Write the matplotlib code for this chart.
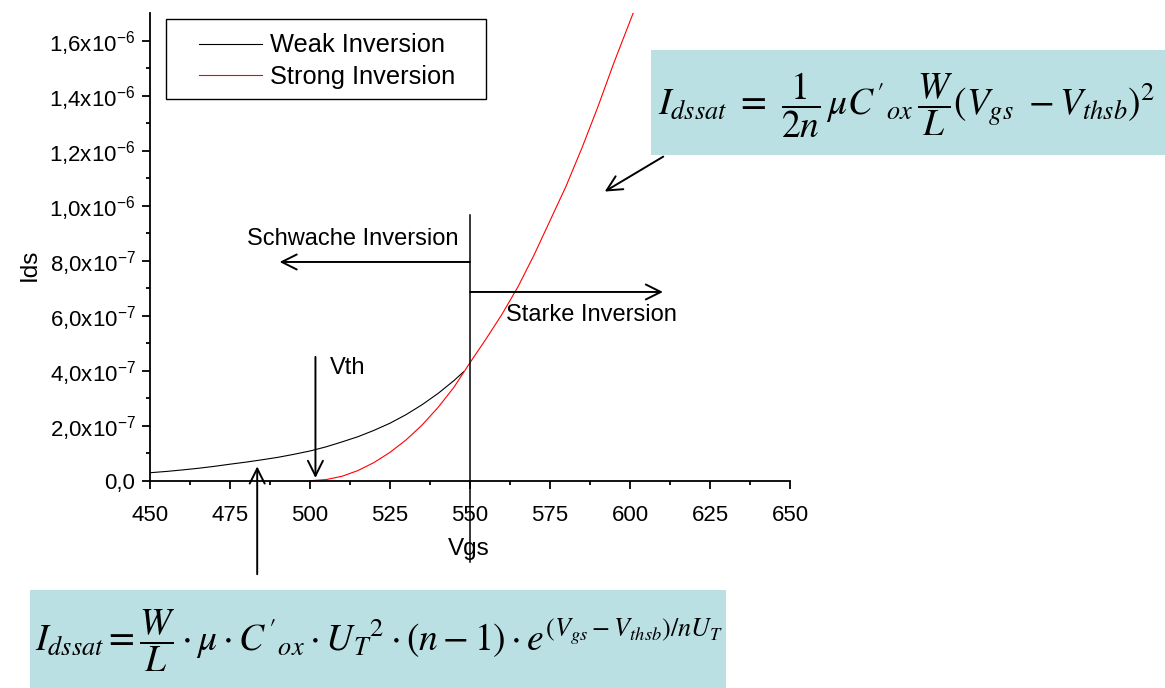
import numpy as np
import matplotlib.pyplot as plt
from matplotlib.patches import Rectangle

plt.rcParams['font.family'] = ['Liberation Sans', 'DejaVu Sans']
plt.rcParams['mathtext.fontset'] = 'custom'
plt.rcParams['mathtext.rm'] = 'Liberation Sans'
plt.rcParams['mathtext.it'] = 'Liberation Sans:italic'

# --- Daten ---
vgs_weak = [450, 455, 460, 465, 470, 475, 480, 485, 490, 495, 500, 505, 510,
            515, 520, 525, 530, 535, 540, 545, 548]
ids_weak = [2.9e-8, 3.35e-8, 3.9e-8, 4.5e-8, 5.2e-8, 6.0e-8, 6.75e-8, 7.6e-8,
            8.5e-8, 9.6e-8, 1.08e-7, 1.23e-7, 1.41e-7, 1.60e-7, 1.83e-7,
            2.09e-7, 2.40e-7, 2.76e-7, 3.17e-7, 3.64e-7, 3.96e-7]

vgs_strong = [500, 505, 510, 515, 520, 525, 530, 535, 540, 545, 550, 555, 560,
              565, 570, 575, 580, 585, 590, 595, 601]
ids_strong = [0.0, 4e-9, 1.6e-8, 3.7e-8, 6.6e-8, 1.03e-7, 1.48e-7, 2.02e-7,
              2.66e-7, 3.40e-7, 4.29e-7, 5.15e-7, 6.05e-7, 7.05e-7, 8.2e-7,
              9.45e-7, 1.07e-6, 1.21e-6, 1.36e-6, 1.52e-6, 1.70e-6]

xticks = [450, 475, 500, 525, 550, 575, 600, 625, 650]
yticks = [0, 2e-7, 4e-7, 6e-7, 8e-7, 1.0e-6, 1.2e-6, 1.4e-6, 1.6e-6]
ytick_labels = ["0,0", "2,0x10$^{\\mathregular{-7}}$", "4,0x10$^{\\mathregular{-7}}$",
                "6,0x10$^{\\mathregular{-7}}$", "8,0x10$^{\\mathregular{-7}}$",
                "1,0x10$^{\\mathregular{-6}}$", "1,2x10$^{\\mathregular{-6}}$",
                "1,4x10$^{\\mathregular{-6}}$", "1,6x10$^{\\mathregular{-6}}$"]

box_color = '#bae0e3'

W, H = 1165, 688
fig = plt.figure(figsize=(W / 100, H / 100), dpi=100)
ax = fig.add_axes([150 / W, 1 - 480.7 / H, 640 / W, (480.7 - 13) / H])

ax.plot(vgs_weak, ids_weak, color='black', lw=0.8, label='Weak Inversion')
ax.plot(vgs_strong, ids_strong, color='red', lw=0.8, label='Strong Inversion')

ax.set_xlim(450, 650)
ax.set_ylim(0, 1.70e-6)
ax.set_xticks(xticks)
ax.set_xticks(np.arange(462.5, 650, 25), minor=True)
ax.set_yticks(yticks)
ax.set_yticklabels(ytick_labels)
ax.set_yticks(np.arange(1e-7, 1.7e-6, 2e-7), minor=True)

for s in ['top', 'right']:
    ax.spines[s].set_visible(False)
for s in ['left', 'bottom']:
    ax.spines[s].set_linewidth(1.3)
ax.tick_params(which='major', direction='out', length=5.5, width=1.3, labelsize=16)
ax.tick_params(which='minor', direction='out', length=3, width=1.3)
ax.tick_params(axis='x', which='major', pad=12)
ax.tick_params(axis='y', which='major', pad=5)

fig.text(469 / W, 1 - 549 / H, 'Vgs', fontsize=17.5, ha='center', va='center')
fig.text(30 / W, 1 - 265 / H, 'Ids', fontsize=17.5, ha='center', va='center',
         rotation=90)

# Legende
ax.legend(loc='upper left', bbox_to_anchor=(199 / W, 1 - 33.5 / H),
          bbox_transform=fig.transFigure, frameon=False, fontsize=18.3,
          handlelength=2.48, handletextpad=0.31, labelspacing=0.3,
          borderpad=0, borderaxespad=0)
fig.patches.append(Rectangle((166 / W, 1 - 99 / H), 320 / W, 80 / H,
                             transform=fig.transFigure, fill=False,
                             edgecolor='black', lw=1.0))

# Trennlinie und Pfeile
ax.plot([550, 550], [-2.96e-7, 9.65e-7], color='black', lw=1.1, clip_on=False)

arrow = dict(arrowstyle='->', color='black', lw=1.4, mutation_scale=27,
             shrinkA=0, shrinkB=0)
ax.annotate('', xy=(490.5, 7.95e-7), xytext=(550, 7.95e-7),
            arrowprops=arrow, annotation_clip=False)
ax.annotate('', xy=(610.3, 6.86e-7), xytext=(550, 6.86e-7),
            arrowprops=arrow, annotation_clip=False)
ax.annotate('', xy=(501.7, 0.1e-7), xytext=(501.7, 4.5e-7),
            arrowprops=arrow, annotation_clip=False)
ax.annotate('', xy=(483.5, 0.52e-7), xytext=(483.5, -3.4e-7),
            arrowprops=arrow, annotation_clip=False)
ax.annotate('', xy=(592.1, 1.051e-6), xytext=(610.4, 1.178e-6),
            arrowprops=arrow, annotation_clip=False)

fig.text(247 / W, 1 - 239 / H, 'Schwache Inversion', fontsize=17, va='center')
fig.text(506 / W, 1 - 315 / H, 'Starke Inversion', fontsize=17, va='center')
fig.text(330 / W, 1 - 368 / H, 'Vth', fontsize=17, va='center')

# Formelkaesten
fig.patches.append(Rectangle((651 / W, 1 - 155 / H), (W - 651) / W, 105 / H,
                             transform=fig.transFigure, color=box_color, lw=0))
fig.patches.append(Rectangle((30 / W, 0), 696 / W, 98 / H,
                             transform=fig.transFigure, color=box_color, lw=0))

fig.text(907 / W, 1 - 105 / H,
         r"$I_{dssat}\ =\ \dfrac{1}{2n}\,\mu C'{}_{ox}\,\dfrac{W}{L}(V_{gs}\ - V_{thsb})^2$",
         fontsize=27, ha='center', va='center', math_fontfamily='stix')
fig.text(379 / W, 1 - 641 / H,
         r"$I_{dssat} = \dfrac{W}{L}\cdot\mu\cdot C'{}_{ox}\cdot U_T{}^2\cdot(n-1)\cdot e^{(V_{gs}-V_{thsb})/nU_T}$",
         fontsize=27, ha='center', va='center', math_fontfamily='stix')

fig.savefig('out.png', dpi=100)
